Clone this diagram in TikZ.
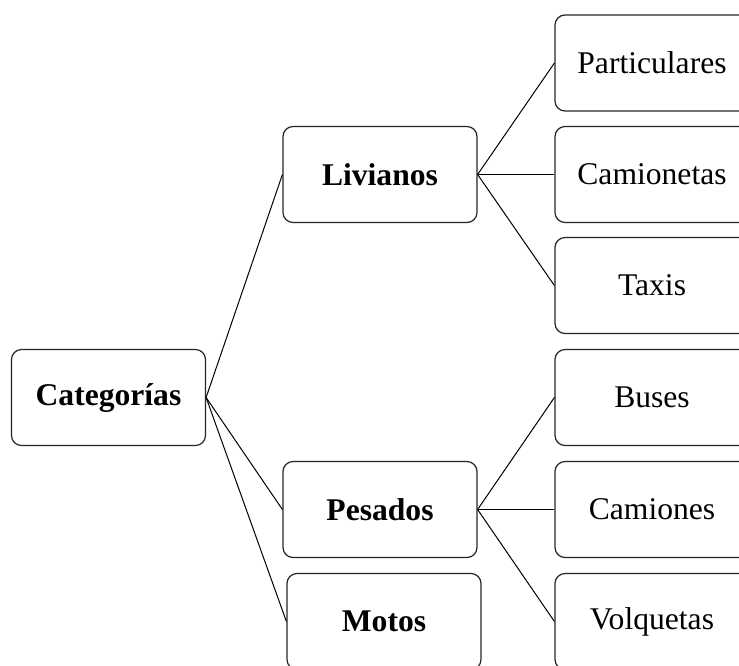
\documentclass[tikz,border=0pt]{standalone}
\usepackage{fontspec}
\setmainfont{Liberation Serif}
\begin{document}
\begin{tikzpicture}[x=0.5pt,y=-0.5pt,
  box/.style={draw=black!85,line width=0.6pt,rounded corners=5pt,minimum width=97pt,minimum height=48pt,inner sep=0pt,font=\fontsize{15.8pt}{18pt}\selectfont},
  bbox/.style={box,font=\fontsize{15.8pt}{18pt}\selectfont\bfseries},
  link/.style={draw=black,line width=0.5pt}]
\clip (0,0) rectangle (739,665);
\fill[white] (0,0) rectangle (739,665);
\node[bbox] (cat) at (108.5,397.5) {Categorías};
\node[bbox] (liv) at (380,174.5) {Livianos};
\node[bbox] (pes) at (380,509.5) {Pesados};
\node[bbox] (mot) at (384,621.5) {Motos};
\node[box] (par) at (652,63) {Particulares};
\node[box] (cam) at (652,174.5) {Camionetas};
\node[box] (tax) at (652,285.5) {Taxis};
\node[box] (bus) at (652,397.5) {Buses};
\node[box] (cmn) at (652,509.5) {Camiones};
\node[box] (vol) at (652,621.5) {Volquetas};
\draw[link] (cat.east) -- (liv.west);
\draw[link] (cat.east) -- (pes.west);
\draw[link] (cat.east) -- (mot.west);
\draw[link] (liv.east) -- (par.west);
\draw[link] (liv.east) -- (cam.west);
\draw[link] (liv.east) -- (tax.west);
\draw[link] (pes.east) -- (bus.west);
\draw[link] (pes.east) -- (cmn.west);
\draw[link] (pes.east) -- (vol.west);
\end{tikzpicture}
\end{document}
